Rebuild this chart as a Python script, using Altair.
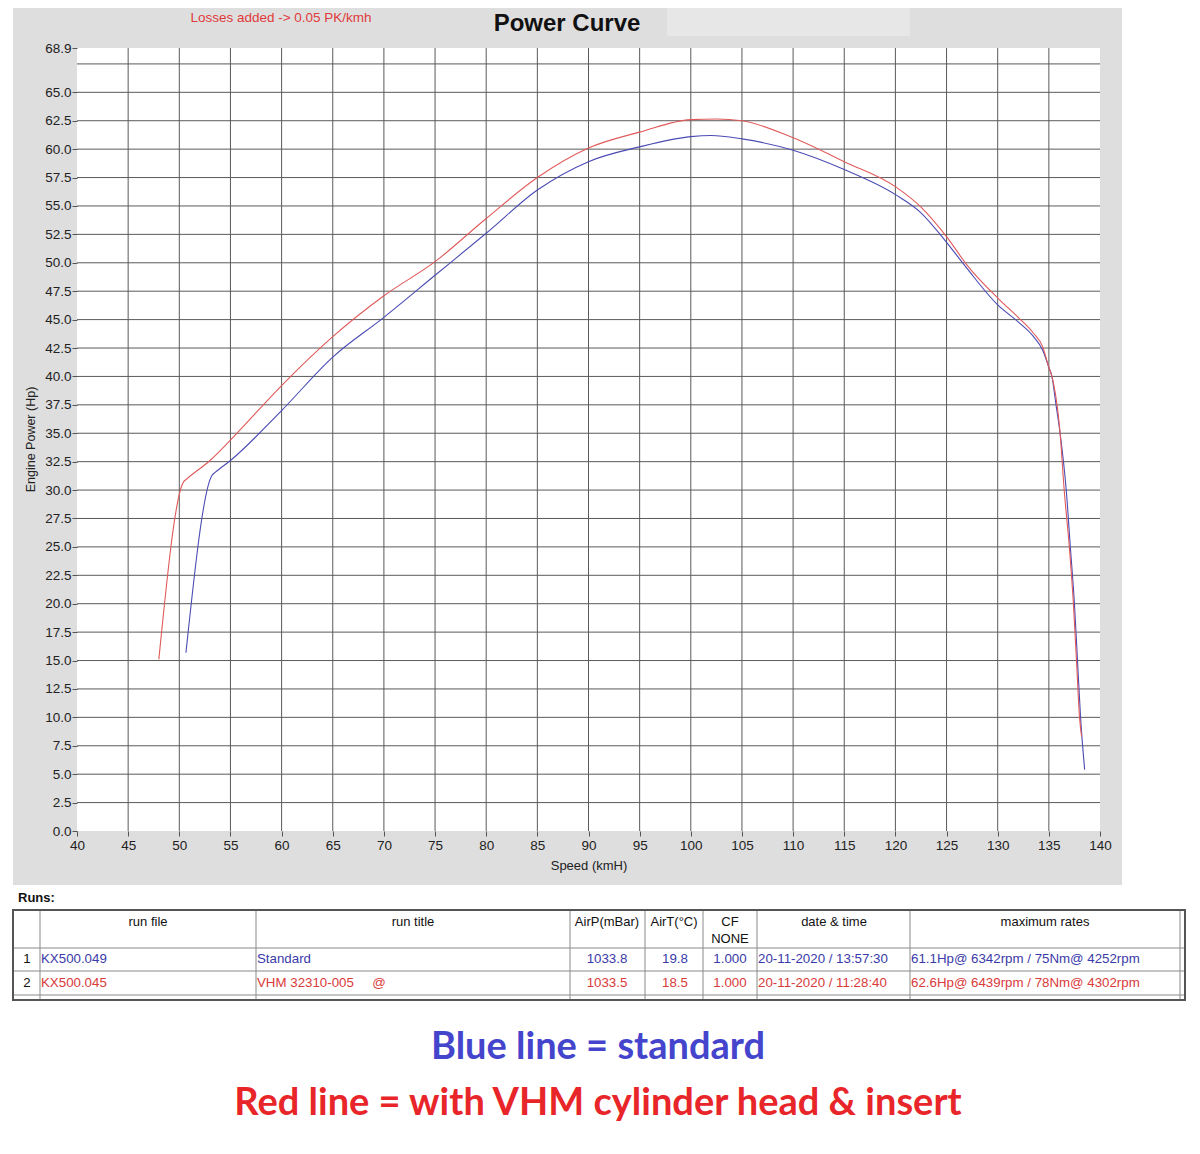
import altair as alt
import pandas as pd

# ---------------- data ----------------
speed_standard = [50.65, 53.2, 53.5, 55, 60, 65, 70, 75, 80, 85, 90, 95, 100, 102, 105, 110, 115,
                  120, 122.5, 125, 127, 130, 132, 133.5, 134.4, 135.0, 135.3, 135.7, 136.1,
                  136.7, 137.1, 137.5, 137.8, 138.1, 138.5]
power_standard = [15.7, 31.3, 31.55, 32.6, 37.0, 41.7, 45.2, 48.9, 52.6, 56.4, 58.9, 60.2, 61.1,
                  61.2, 60.9, 59.9, 58.2, 56.0, 54.4, 51.8, 49.5, 46.3, 44.8, 43.5, 42.3, 40.8,
                  40.0, 37.5, 35.0, 30.0, 25.0, 20.0, 15.0, 10.0, 5.4]

speed_vhm = [48.0, 50.4, 50.7, 53.0, 55, 60, 65, 70, 75, 80, 85, 90, 95, 100, 102.5, 105, 110,
             115, 120, 122.5, 125, 127, 130, 132, 133.5, 134.4, 135.0, 135.3, 136.1, 136.5,
             137.0, 137.4, 137.7, 138.0, 138.2]
power_vhm = [15.1, 30.7, 30.95, 32.6, 34.4, 39.2, 43.5, 47.1, 50.1, 53.9, 57.5, 60.1, 61.5, 62.6,
             62.65, 62.5, 61.0, 58.9, 56.7, 54.9, 52.3, 49.8, 46.9, 45.2, 43.8, 42.6, 40.8, 40.0,
             35.0, 30.0, 25.0, 20.0, 15.0, 10.0, 8.3]

series_names = ["Standard", "VHM"]
x_ticks = list(range(40, 145, 5))
y_ticks = [i * 2.5 for i in range(27)] + [68.9]
h_grid = [i * 2.5 for i in range(1, 28)]
v_grid = list(range(45, 140, 5))

run_no = ["1", "2"]
run_file = ["KX500.049", "KX500.045"]
run_title = ["Standard", "VHM 32310-005\u00a0\u00a0\u00a0\u00a0\u00a0@"]
air_p = ["1033.8", "1033.5"]
air_t = ["19.8", "18.5"]
cf = ["1.000", "1.000"]
date_time = ["20-11-2020 / 13:57:30", "20-11-2020 / 11:28:40"]
max_rates = ["61.1Hp@ 6342rpm / 75Nm@ 4252rpm", "62.6Hp@ 6439rpm / 78Nm@ 4302rpm"]
header_main = ["run file", "run title", "AirP(mBar)", "AirT(°C)", "CF", "date & time", "maximum rates"]

# ---------------- layout constants (pixels relative to plot origin) ----------------
W, H = 1023, 783
BLUE = "#4b4bb4"
RED = "#e05a5a"
TXT_BLUE = "#3a3aa8"
TXT_RED = "#d93a3a"

col_edges = [-64, -37, 179, 493, 568, 626, 680, 833, 1103]
row_edges = [862, 900, 923, 947, 952]
table_right = 1108
header_x = [71, 336, 530, 597, 653, 757, 968]
header_y = 874
row_y = [911, 935]

# ---------------- build tables ----------------
lines_df = pd.concat([
    pd.DataFrame({"kmh": speed_standard, "hp": power_standard, "run": series_names[0]}),
    pd.DataFrame({"kmh": speed_vhm, "hp": power_vhm, "run": series_names[1]}),
])

xscale = alt.Scale(domain=[40, 140], nice=False, zero=False)
yscale = alt.Scale(domain=[0, 68.9], nice=False, zero=True)

x_axis = alt.Axis(
    values=x_ticks, grid=False, domain=False, tickSize=5, tickColor="#555", zindex=2,
    labelFontSize=13.5, labelColor="#222", labelFont="Liberation Sans", labelFlush=False,
    labelOverlap=False, labelPadding=2, title="Speed (kmH)", titleFont="Liberation Sans",
    titleFontSize=13, titleFontWeight="normal", titleColor="#222", titleY=28)
y_axis = alt.Axis(
    values=y_ticks, format=".1f", grid=False, domain=False, tickSize=5, tickColor="#555",
    zindex=2, labelFontSize=13.5, labelColor="#222", labelFont="Liberation Sans",
    labelFlush=False, labelOverlap=False, labelPadding=1, title="Engine Power (Hp)",
    titleFont="Liberation Sans", titleFontSize=12.5, titleFontWeight="normal",
    titleColor="#222", titleX=-40, titleY=391)

one = pd.DataFrame({"a": [0]})

grey_bg = alt.Chart(one).mark_rect(color="#dedede").encode(
    x=alt.value(-64), x2=alt.value(1045), y=alt.value(-40), y2=alt.value(837))
light_box = alt.Chart(one).mark_rect(color="#e7e7e7").encode(
    x=alt.value(590), x2=alt.value(833), y=alt.value(-40), y2=alt.value(-12))
plot_bg = alt.Chart(one).mark_rect(color="white").encode(
    x=alt.value(0), x2=alt.value(W), y=alt.value(0), y2=alt.value(H))

hgrid = alt.Chart(pd.DataFrame({"hp": h_grid})).mark_rule(color="#5a5a5a", strokeWidth=1).encode(
    y=alt.Y("hp:Q", scale=yscale, axis=y_axis))
vgrid = alt.Chart(pd.DataFrame({"kmh": v_grid})).mark_rule(color="#5a5a5a", strokeWidth=1).encode(
    x=alt.X("kmh:Q", scale=xscale, axis=x_axis))

lines = alt.Chart(lines_df).mark_line(interpolate="monotone", strokeWidth=1.1).encode(
    x=alt.X("kmh:Q", scale=xscale, axis=x_axis),
    y=alt.Y("hp:Q", scale=yscale, axis=y_axis),
    color=alt.Color("run:N", scale=alt.Scale(domain=series_names, range=[BLUE, RED]), legend=None),
    order=alt.Order("kmh:Q"),
)

title_txt = alt.Chart(one).mark_text(
    font="Liberation Sans", fontSize=24, fontWeight="bold", color="#111", align="center",
    baseline="alphabetic").encode(x=alt.value(490), y=alt.value(-17), text=alt.value("Power Curve"))
loss_txt = alt.Chart(one).mark_text(
    font="Liberation Sans", fontSize=13.5, color="#e03a3a", align="center",
    baseline="middle").encode(x=alt.value(204), y=alt.value(-30),
                              text=alt.value("Losses added -> 0.05 PK/kmh"))

# ---------------- runs table ----------------
seg = []
for xe in col_edges:
    seg.append({"x": xe, "x2": xe, "y": row_edges[0], "y2": row_edges[-1]})
for ye in row_edges[1:-1]:
    seg.append({"x": col_edges[0], "x2": table_right, "y": ye, "y2": ye})
seg_df = pd.DataFrame(seg)
table_lines = alt.Chart(seg_df).mark_rule(color="#8a8a8a", strokeWidth=1).encode(
    x=alt.X("x:Q", scale=None), x2="x2:Q", y=alt.Y("y:Q", scale=None), y2="y2:Q")
table_box = alt.Chart(one).mark_rect(fill=None, stroke="#555", strokeWidth=2).encode(
    x=alt.value(col_edges[0]), x2=alt.value(table_right),
    y=alt.value(row_edges[0]), y2=alt.value(row_edges[-1]))

hdr_df = pd.DataFrame({"t": header_main, "x": header_x, "y": [header_y] * len(header_main)})
hdr_df = pd.concat([hdr_df, pd.DataFrame({"t": ["NONE"], "x": [653], "y": [891]})])
headers = alt.Chart(hdr_df).mark_text(font="Liberation Sans", fontSize=13, color="#111",
                                      align="center", baseline="middle").encode(
    x=alt.X("x:Q", scale=None), y=alt.Y("y:Q", scale=None), text="t:N")

runs_label = alt.Chart(one).mark_text(font="Liberation Sans", fontSize=13, fontWeight="bold",
                                      color="#111", align="left", baseline="middle").encode(
    x=alt.value(-59), y=alt.value(850), text=alt.value("Runs:"))

cells = []
for i in range(2):
    col = TXT_BLUE if i == 0 else TXT_RED
    cells += [
        {"t": run_no[i], "x": -50, "y": row_y[i], "c": "#111", "a": "center"},
        {"t": run_file[i], "x": -36, "y": row_y[i], "c": col, "a": "left"},
        {"t": run_title[i], "x": 180, "y": row_y[i], "c": col, "a": "left"},
        {"t": air_p[i], "x": 530, "y": row_y[i], "c": col, "a": "center"},
        {"t": air_t[i], "x": 598, "y": row_y[i], "c": col, "a": "center"},
        {"t": cf[i], "x": 653, "y": row_y[i], "c": col, "a": "center"},
        {"t": date_time[i], "x": 681, "y": row_y[i], "c": col, "a": "left"},
        {"t": max_rates[i], "x": 834, "y": row_y[i], "c": col, "a": "left"},
    ]
cells_df = pd.DataFrame(cells)


def cell_layer(align):
    d = cells_df[cells_df.a == align]
    return alt.Chart(d).mark_text(font="Liberation Sans", fontSize=13.3, align=align,
                                  baseline="middle").encode(
        x=alt.X("x:Q", scale=None), y=alt.Y("y:Q", scale=None), text="t:N",
        color=alt.Color("c:N", scale=None))


cell_layers = [cell_layer("left"), cell_layer("center")]

cap1 = alt.Chart(one).mark_text(font="Lato", fontSize=38, fontWeight="bold", color="#4444cc",
                                align="center", baseline="middle").encode(
    x=alt.value(521), y=alt.value(1000), text=alt.value("Blue line = standard"))
cap2 = alt.Chart(one).mark_text(font="Lato", fontSize=38, fontWeight="bold", color="#e8262a",
                                align="center", baseline="middle").encode(
    x=alt.value(521), y=alt.value(1056), text=alt.value("Red line = with VHM cylinder head & insert"))

chart = alt.layer(
    grey_bg, light_box, plot_bg, hgrid, vgrid, lines, title_txt, loss_txt,
    table_lines, table_box, headers, runs_label, *cell_layers, cap1, cap2
).properties(
    width=W, height=H,
    autosize=alt.AutoSizeParams(type="none"),
    padding={"left": 69, "top": 40, "right": 90, "bottom": 300},
    background="white",
).configure_view(stroke=None)

chart.save("out.html", embed_options={"renderer": "svg", "actions": False})
